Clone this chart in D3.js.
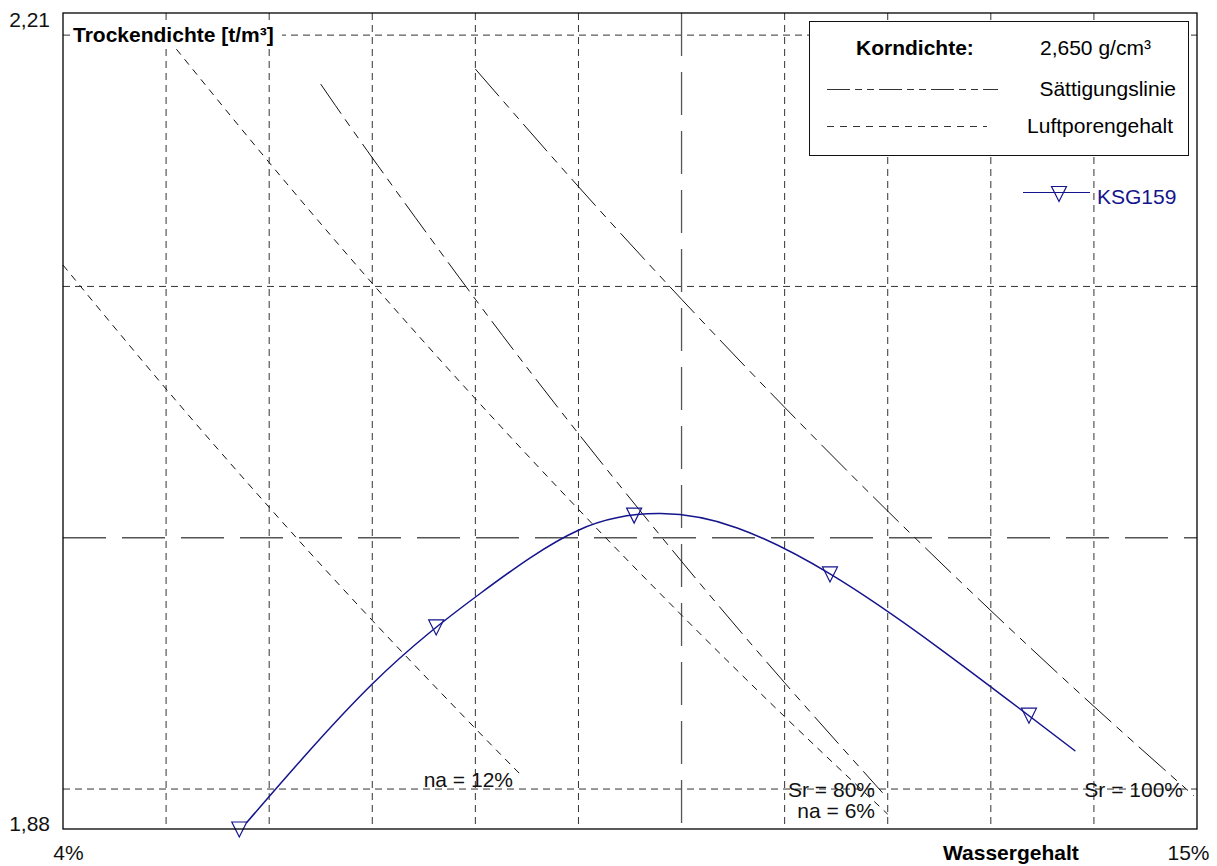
<!DOCTYPE html>
<html>
<head>
<meta charset="utf-8">
<script src="https://cdn.jsdelivr.net/npm/d3@7"></script>
<style>
  html, body { margin: 0; padding: 0; background: #fff; }
  svg { display: block; font-family: "Liberation Sans", Arial, Helvetica, sans-serif; }
</style>
</head>
<body>
<svg id="chart" width="1217" height="866"></svg>
<script>
// ---------- data ----------
const xDomain = [4, 15];                 // Wassergehalt [%]
const yDomain = [1.8841, 2.2088];        // Trockendichte [t/m³]
const xTickValues = [4, 15];
const xTickLabels = ["4%", "15%"];
const yTickValues = [2.2088, 1.8841];
const yTickLabels = ["2,21", "1,88"];
const xGridMinor = [5, 6, 7, 8, 9, 11, 12, 13, 14];
const xGridMajor = [10];
const yGridMinor = [1.9, 2.1, 2.2];
const yGridMajor = [2.0];

// Sättigungslinien (Sr = 100 %, Sr = 80 %)
const sr100W   = [8.0, 9, 10, 11, 12, 13, 14, 14.97];
const sr100Rho = [2.1865, 2.1397, 2.0949, 2.0519, 2.0106, 1.9710, 1.9329, 1.8973];
const sr80W    = [6.5, 7, 8, 9, 10, 11, 11.95];
const sr80Rho  = [2.1805, 2.1512, 2.0949, 2.0414, 1.9906, 1.9423, 1.8985];
// Luftporenlinien (na = 6 %, na = 12 %)
const na6W     = [5.1, 6, 7, 8, 9, 10, 11, 12];
const na6Rho   = [2.1944, 2.1493, 2.1012, 2.0553, 2.0113, 1.9692, 1.9288, 1.8900];
const na12W    = [4, 5, 6, 7, 8, 8.46];
const na12Rho  = [2.1085, 2.0592, 2.0121, 1.9671, 1.9241, 1.9049];

// Proctor-Versuch KSG159: Messpunkte und Ausgleichskurve
const ksgW     = [5.71, 7.62, 9.54, 11.44, 13.37];
const ksgRho   = [1.8849, 1.9653, 2.0098, 1.9864, 1.9302];
const fitW     = [5.78, 7.0, 8.05, 9.0, 9.8, 10.54, 11.44, 12.5, 13.82];
const fitRho   = [1.8866, 1.9418, 1.9779, 2.0030, 2.0096, 2.0039, 1.9856, 1.9560, 1.9151];

const seriesName = "KSG159";
const kornLabel = "Korndichte:";
const kornValue = "2,650 g/cm³";
const legSat = "Sättigungslinie";
const legAir = "Luftporengehalt";
const yTitle = "Trockendichte [t/m³]";
const xTitle = "Wassergehalt";

// ---------- layout ----------
const L = 63, R = 1197, T = 13, B = 829;
const FS = 21;
const blue = "#14148c";
const svg = d3.select("#chart");
const x = d3.scaleLinear().domain(xDomain).range([L, R]);
const y = d3.scaleLinear().domain(yDomain).range([B, T]);

// grid
const grid = svg.append("g");
grid.selectAll(".vg").data(xGridMinor).join("line")
  .attr("x1", d => x(d)).attr("x2", d => x(d)).attr("y1", T).attr("y2", B)
  .attr("stroke", "#333").attr("stroke-width", 1).attr("stroke-dasharray", "7,5");
grid.selectAll(".hg").data(yGridMinor).join("line")
  .attr("y1", d => y(d)).attr("y2", d => y(d)).attr("x1", L).attr("x2", R)
  .attr("stroke", "#333").attr("stroke-width", 1).attr("stroke-dasharray", "7,5");
grid.selectAll(".vgm").data(xGridMajor).join("line")
  .attr("x1", d => x(d)).attr("x2", d => x(d)).attr("y1", T).attr("y2", B)
  .attr("stroke", "#555").attr("stroke-width", 1.3).attr("stroke-dasharray", "43,16");
grid.selectAll(".hgm").data(yGridMajor).join("line")
  .attr("y1", d => y(d)).attr("y2", d => y(d)).attr("x1", L).attr("x2", R)
  .attr("stroke", "#555").attr("stroke-width", 1.3).attr("stroke-dasharray", "43,16");

// reference lines
const zip = (ws, rs) => ws.map((w, i) => [w, rs[i]]);
const refLine = d3.line().x(d => x(d[0])).y(d => y(d[1])).curve(d3.curveNatural);
const refs = [
  { pts: zip(sr100W, sr100Rho), dash: "36,7,8,7,8,7" },
  { pts: zip(sr80W, sr80Rho), dash: "36,7,8,7,8,7" },
  { pts: zip(na6W, na6Rho), dash: "7,6" },
  { pts: zip(na12W, na12Rho), dash: "7,6" }
];
svg.append("g").selectAll("path").data(refs).join("path")
  .attr("d", d => refLine(d.pts)).attr("fill", "none")
  .attr("stroke", "#111").attr("stroke-width", 1).attr("stroke-dasharray", d => d.dash);

// line labels
const lineLabels = [
  { t: "na = 12%", x: 513, y: 787 },
  { t: "Sr = 80%", x: 875, y: 797 },
  { t: "na = 6%", x: 875, y: 818 },
  { t: "Sr = 100%", x: 1183, y: 797 }
];
svg.append("g").selectAll("text").data(lineLabels).join("text")
  .attr("x", d => d.x).attr("y", d => d.y).attr("text-anchor", "end")
  .attr("font-size", FS).attr("fill", "#111").text(d => d.t);

// fitted curve
const fitLine = d3.line().x(d => x(d[0])).y(d => y(d[1])).curve(d3.curveNatural);
svg.append("path").attr("d", fitLine(zip(fitW, fitRho)))
  .attr("fill", "none").attr("stroke", blue).attr("stroke-width", 1.5);

// markers (downward triangles)
const tri = (cx, cy) => `M${cx - 7.5},${cy - 5}L${cx + 7.5},${cy - 5}L${cx},${cy + 10}Z`;
svg.append("g").selectAll("path").data(zip(ksgW, ksgRho)).join("path")
  .attr("d", d => tri(x(d[0]), y(d[1])))
  .attr("fill", "none").attr("stroke", blue).attr("stroke-width", 1.2);

// legend box
const lg = svg.append("g");
lg.append("rect").attr("x", 809.5).attr("y", 21.5).attr("width", 379).attr("height", 134)
  .attr("fill", "#fff").attr("stroke", "#111").attr("stroke-width", 1);
lg.append("text").attr("x", 856).attr("y", 55).attr("font-size", FS).attr("font-weight", "bold").text(kornLabel);
lg.append("text").attr("x", 1040).attr("y", 55).attr("font-size", FS).text(kornValue);
lg.append("line").attr("x1", 827).attr("x2", 998).attr("y1", 89.5).attr("y2", 89.5)
  .attr("stroke", "#333").attr("stroke-width", 1).attr("stroke-dasharray", "23,5,7,5,7,5");
lg.append("text").attr("x", 1176).attr("y", 96).attr("text-anchor", "end").attr("font-size", FS).text(legSat);
lg.append("line").attr("x1", 827).attr("x2", 987).attr("y1", 126.5).attr("y2", 126.5)
  .attr("stroke", "#333").attr("stroke-width", 1).attr("stroke-dasharray", "7,6");
lg.append("text").attr("x", 1173).attr("y", 133).attr("text-anchor", "end").attr("font-size", FS).text(legAir);

// series legend
const sl = svg.append("g");
sl.append("line").attr("x1", 1023).attr("x2", 1090).attr("y1", 192.5).attr("y2", 192.5)
  .attr("stroke", blue).attr("stroke-width", 1.2);
sl.append("path").attr("d", tri(1059, 191.5)).attr("fill", "none").attr("stroke", blue).attr("stroke-width", 1.2);
sl.append("text").attr("x", 1097).attr("y", 204).attr("font-size", FS).attr("fill", blue).text(seriesName);

// y title with white background
const yt = svg.append("g");
yt.append("rect").attr("x", 72).attr("y", 23).attr("width", 210).attr("height", 23).attr("fill", "#fff");
yt.append("text").attr("x", 73).attr("y", 42).attr("font-size", FS).attr("font-weight", "bold").text(yTitle);

// frame
svg.append("rect").attr("x", L).attr("y", T).attr("width", R - L).attr("height", B - T)
  .attr("fill", "none").attr("stroke", "#000").attr("stroke-width", 1.3);

// axes (end labels only)
const yAxis = svg.append("g").attr("transform", `translate(${L},0)`)
  .call(d3.axisLeft(y).tickValues(yTickValues).tickSize(0).tickPadding(13)
    .tickFormat((d, i) => yTickLabels[i]));
yAxis.select(".domain").remove();
yAxis.selectAll("text").attr("font-size", FS).attr("font-family", null).attr("fill", "#111")
  .attr("dy", null)
  .attr("y", (d, i) => i === 0 ? 13 : 1);   // baseline offsets relative to tick

const xAxis = svg.append("g").attr("transform", `translate(0,${B})`)
  .call(d3.axisBottom(x).tickValues(xTickValues).tickSize(0).tickPadding(0)
    .tickFormat((d, i) => xTickLabels[i]));
xAxis.select(".domain").remove();
xAxis.selectAll("text").attr("font-size", FS).attr("font-family", null).attr("fill", "#111")
  .attr("dy", null).attr("y", 31)
  .attr("dx", (d, i) => i === 0 ? 5 : -9);

svg.append("text").attr("x", 943).attr("y", 860).attr("font-size", FS).attr("font-weight", "bold").text(xTitle);
</script>
</body>
</html>
